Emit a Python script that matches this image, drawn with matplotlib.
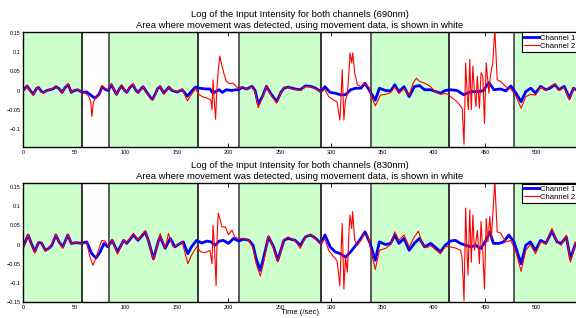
import numpy as np
import matplotlib
matplotlib.use("Agg")
import matplotlib.pyplot as plt

plt.rcParams['font.family'] = ['Liberation Sans', 'DejaVu Sans']

# windows (sec) where movement was detected -> drawn white, rest green
movement_windows = [(57.8, 84), (170, 210), (290, 338.5), (415, 478)]
t_max = 562  # axes run a bit past the right edge of the figure

# 690nm, (time, value)
ch1_690 = [(0,0),(2,0.006),(4,0.012),(7,0.0),(10,-0.01),(13,0.005),(15,0.008),(18,-0.003),(20,-0.005),(23,0.0),
    (26,0.002),(29,0.004),(32,0.01),(35,0.005),(38,-0.005),(41,0.008),(44,0.015),(47,-0.005),(50,0.0),(53,0.002),
    (57,-0.004),(62,-0.004),(66,-0.012),(70,-0.02),(74,-0.01),(77,0.01),(80,0.003),(83,0.0),(86,0.015),(89,0.0),
    (91,-0.01),(94,0.005),(96,0.012),(99,0.0),(101,-0.005),(104,0.008),(107,0.015),(110,0.0),(112,-0.005),(115,0.005),
    (117,0.01),(120,-0.003),(122,-0.01),(124,-0.018),(126,-0.023),(129,-0.008),(131,0.005),(133.5,0.01),(137,-0.007),
    (142,0.009),(145,0.0),(150,-0.004),(155,0.002),(158,-0.008),(160,-0.015),(164,-0.002),(168,0.009),(172,0.006),
    (178,0.004),(182,0.004),(185,-0.007),(188,-0.002),(191,0.002),(194,-0.005),(198,0.002),(203,0.0),(207,0.002),
    (210,0.002),(213,0.008),(218,0.004),(223,0.011),(226,0.0),(229,-0.035),(233,-0.016),(237,0.011),(241,-0.007),
    (247,-0.029),(251,-0.005),(254,0.006),(258,0.009),(262,0.006),(265,0.004),(270,0.002),(275,0.012),(280,0.011),
    (285,0.006),(290,-0.003),(294,0.01),(299,-0.005),(304,-0.007),(309,-0.011),(314,-0.011),(319,0.002),(324,0.006),
    (329,0.006),(333,0.019),(338,-0.003),(343,-0.025),(347,0.006),(353,0.0),(358,-0.001),(362,0.015),(366,-0.003),
    (371,0.01),(376,-0.016),(381,0.01),(386,0.013),(391,0.002),(397,0.002),(401,-0.002),(406.5,-0.007),(411,0.0),
    (416,0.002),(422.7,0.0),(429,-0.011),(436,-0.003),(442,-0.003),(448,-0.001),(453.6,0.021),(458.5,0.002),
    (465,0.004),(470,-0.001),(475,0.012),(480,-0.007),(485,-0.029),(489.5,-0.003),(494.4,0.006),(499,-0.007),
    (504,0.011),(509,0.002),(513,0.006),(518,0.015),(522,0.002),(527,0.011),(532,-0.02),(536,0.006),(540,0.0)]

ch2_690 = [(0,-0.003),(2,0.004),(4,0.013),(7,-0.002),(10,-0.012),(13,0.006),(15,0.007),(18,-0.005),(20,-0.006),
    (23,0.0),(26,0.003),(29,0.005),(32,0.011),(35,0.004),(38,-0.007),(41,0.01),(44,0.018),(47,-0.006),(50,0.001),
    (53,0.003),(57,-0.005),(61,-0.008),(64,-0.015),(66,-0.03),(67,-0.068),(68.5,-0.03),(70,-0.022),(74,-0.012),
    (77,0.013),(80,0.005),(83,0.002),(86,0.018),(89,0.0),(91,-0.012),(94,0.006),(96,0.015),(99,0.0),(101,-0.006),
    (104,0.01),(107,0.018),(110,0.0),(112,-0.006),(115,0.006),(117,0.01),(120,-0.005),(122,-0.012),(124,-0.02),
    (126,-0.025),(129,-0.01),(131,0.006),(133.5,0.012),(137,-0.01),(142,0.01),(145,0.002),(150,-0.003),(155,0.004),
    (158,-0.015),(160,-0.027),(164,-0.01),(168,0.005),(171,-0.01),(174.7,-0.016),(179.6,-0.02),(182.8,-0.025),
    (184,-0.05),(185,0.028),(186,-0.02),(187.5,-0.075),(188.5,-0.01),(190,0.05),(191.6,0.09),(193,0.072),
    (195.4,0.046),(198,0.024),(201,0.018),(204.5,0.019),(207.8,0.01),(211,0.005),(213,0.01),(218,0.003),(223,0.01),
    (226,-0.003),(229,-0.045),(233,-0.02),(237,0.012),(241,-0.01),(247,-0.033),(251,-0.006),(254,0.008),(258,0.01),
    (262,0.004),(265,0.003),(270,0.0),(275,0.011),(280,0.01),(285,0.004),(290,-0.004),(294,0.003),(297.6,-0.016),
    (302.5,-0.025),(305.8,-0.03),(308.5,-0.077),(309.8,-0.01),(310.8,0.054),(312.4,-0.077),(314,-0.025),
    (315.8,-0.01),(317.4,0.05),(318.4,0.098),(320,0.072),(321,0.098),(323,0.045),(325.6,0.015),(329,0.01),
    (332,0.02),(337,0.008),(340,-0.02),(343,-0.04),(348,-0.012),(353,-0.01),(358,-0.005),(362,0.01),(366,-0.008),
    (371,0.005),(376,-0.012),(380,0.02),(383,0.032),(386,0.024),(390,0.02),(394,0.015),(397,0.01),(401,-0.003),
    (406.5,-0.01),(411,-0.008),(414,-0.01),(418,-0.02),(422.7,-0.029),(427.6,-0.046),(429.4,-0.14),(431,0.072),
    (432.6,-0.015),(433.6,-0.05),(435,0.081),(436.5,-0.05),(438,0.063),(439.5,0.0),(441,-0.042),(442.4,0.037),
    (444.4,-0.046),(446,0.046),(447.7,0.037),(449.3,-0.086),(451,0.072),(453.6,-0.007),(455,0.037),(457.4,0.072),
    (459.4,0.16),(461.7,0.028),(465,0.024),(470,0.01),(475,0.004),(480,-0.015),(485,-0.046),(489.5,-0.016),
    (494.4,-0.01),(499,-0.012),(504,0.009),(509,0.0),(513,0.01),(518,0.018),(522,0.0),(527,0.008),(532,-0.025),
    (536,0.006),(540,0.0)]

# 830nm
ch1_830 = [(0,-0.006),(5,0.025),(8,0.003),(11.5,-0.018),(15,0.005),(18,0.004),(21.8,-0.015),(25,-0.01),(28,-0.002),
    (32,0.025),(35,0.007),(38.7,-0.006),(43.6,0.025),(47,0.003),(52,0.005),(57,0.003),(62,0.007),(67,-0.024),
    (71,-0.035),(75,-0.02),(78.8,0.003),(82.6,-0.006),(86.8,0.011),(92,-0.019),(98,0.011),(101,0.003),(107.5,0.025),
    (112,0.011),(119,0.033),(122,0.011),(127,-0.037),(132,0.011),(133.5,0.02),(138.4,-0.01),(143.3,0.016),
    (148,-0.006),(153,0.003),(156,0.007),(160.5,-0.024),(164,-0.006),(169,0.011),(174,0.004),(179,0.009),
    (183,0.007),(187,-0.002),(191,0.009),(195,0.011),(200,0.003),(205,0.016),(210,0.009),(215,0.014),(220,0.011),
    (224,-0.002),(227,-0.037),(231,-0.067),(234,-0.037),(239,0.02),(244,-0.006),(248,-0.041),(254,0.011),
    (258,0.016),(265,0.011),(270,-0.002),(275,0.02),(280,0.025),(285,0.016),(290,0.003),(294,0.025),(299,-0.006),
    (304,-0.019),(309,-0.024),(314,-0.033),(319,-0.019),(324,-0.002),(329,0.016),(333,0.033),(338,0.003),
    (343,-0.041),(347,0.007),(353,0.0),(358,0.003),(362,0.025),(366,0.003),(371,0.016),(376,-0.015),(381,0.003),
    (386,0.016),(391,-0.006),(397,0.003),(401,-0.006),(406.5,-0.019),(411,-0.002),(416,0.009),(421,0.011),
    (426,0.003),(431,-0.002),(436,-0.006),(441,-0.002),(445.4,-0.011),(450,0.007),(454.5,0.033),(458,0.003),
    (463.4,0.003),(468,0.007),(473,0.025),(478,0.007),(485,-0.05),(489.5,-0.002),(494,0.007),(499,-0.015),
    (504,0.011),(509,0.003),(515,0.035),(520,0.007),(524,0.003),(529,0.02),(533,-0.037),(538,0.003),(540,0.0)]

ch2_830 = [(0,-0.01),(5,0.027),(8,0.0),(11.5,-0.022),(15,0.007),(18,0.006),(21.8,-0.017),(25,-0.01),(28,0.0),
    (32,0.027),(35,0.005),(38.7,-0.01),(43.6,0.027),(47,0.002),(52,0.006),(57,0.002),(62,0.003),(65,-0.03),
    (68,-0.054),(71,-0.035),(74,-0.01),(76.6,0.011),(80,0.009),(83,-0.006),(86.8,0.014),(92,-0.025),(98,0.013),
    (101,0.004),(107.5,0.029),(112,0.012),(119,0.036),(122,0.01),(127,-0.04),(132,0.012),(133.5,0.029),
    (138.4,-0.01),(141.6,0.029),(146,-0.006),(150,-0.002),(155,0.007),(160.5,-0.05),(164,-0.028),(169,-0.006),
    (173,-0.019),(177.4,-0.021),(182,-0.015),(184,-0.05),(185,0.05),(186.5,-0.01),(188,-0.107),(189,0.016),
    (190,0.082),(192,0.065),(193.6,0.046),(197,0.046),(200,0.025),(203.4,0.038),(206,0.02),(210,0.016),(215,0.016),
    (220,0.01),(224,-0.01),(227,-0.05),(231,-0.082),(234,-0.05),(239,0.023),(244,-0.01),(248,-0.045),(254,0.013),
    (258,0.02),(265,0.01),(270,-0.01),(275,0.02),(280,0.027),(285,0.014),(290,0.003),(294,0.015),(297.6,-0.015),
    (302.5,-0.032),(305.8,-0.042),(308.5,-0.107),(309.8,-0.01),(310.8,0.055),(312.4,-0.116),(314,-0.033),
    (315.8,-0.072),(317.4,0.033),(318.4,0.077),(320,0.042),(321,0.086),(323,0.011),(325.6,-0.002),(329,0.011),
    (332,0.027),(336,0.02),(340,-0.03),(343,-0.065),(347,-0.015),(353,-0.01),(358,0.0),(362,0.033),(366,0.011),
    (371,0.025),(376,-0.006),(381,0.02),(385,0.035),(389,0.0),(393,-0.008),(397,-0.003),(401,-0.012),
    (406.5,-0.024),(411,-0.005),(416,-0.006),(421,-0.009),(426,-0.015),(427.6,-0.037),(429.4,-0.146),(431,0.095),
    (432.2,-0.01),(433.3,-0.08),(435,0.09),(436.5,-0.046),(438,0.077),(439.5,-0.015),(441,0.007),(442.4,0.037),
    (444.4,-0.05),(446,0.06),(447.7,-0.02),(449.3,-0.116),(451,0.068),(452.7,0.007),(454.5,0.073),(456,0.016),
    (457.4,0.078),(459.4,0.165),(461.7,0.033),(465,0.03),(470,0.007),(475,0.011),(480,-0.02),(485,-0.07),
    (489.5,-0.015),(494,0.0),(499,-0.024),(504,0.007),(509,0.003),(515,0.042),(520,0.007),(524,-0.002),
    (529,0.025),(533,-0.046),(538,0.007),(540,0.0)]

panels = [
    ("690nm", ch1_690, ch2_690, (-0.147, 0.153), [-0.1, -0.05, 0, 0.05, 0.1, 0.15]),
    ("830nm", ch1_830, ch2_830, (-0.15, 0.16), [-0.15, -0.1, -0.05, 0, 0.05, 0.1, 0.15]),
]
ylabels = {-0.15: '\u22120.15', -0.1: '\u22120.1', -0.05: '\u22120.05', 0: '0',
           0.05: '0.05', 0.1: '0.1', 0.15: '0.15'}

fig = plt.figure(figsize=(5.76, 3.18), dpi=100)
# right edge of axes lies outside the figure, like the original export
positions = [[0.040, 0.538, 1.002, 0.362], [0.040, 0.050, 1.002, 0.374]]
green = '#ccffcc'
x_mid = 0.48  # visible centre of the cropped axes

for pos, (wl, ch1, ch2, ylim, yticks) in zip(positions, panels):
    ax = fig.add_axes(pos)
    ax.set_axisbelow(True)

    # green background except where movement was detected
    edges = [0]
    for a, b in movement_windows:
        edges += [a, b]
    edges.append(t_max)
    for i in range(0, len(edges), 2):
        ax.axvspan(edges[i], edges[i + 1], color=green, lw=0, zorder=1)
    for a, b in movement_windows:
        ax.axvline(a, color='k', lw=1.1, zorder=1.5)
        ax.axvline(b, color='#333333', lw=1.1, zorder=1.5)

    c1 = np.array(ch1)
    c2 = np.array(ch2)
    ax.plot(c1[:, 0], c1[:, 1], color='b', lw=2.0, label='Channel 1', zorder=3)
    ax.plot(c2[:, 0], c2[:, 1], color='r', lw=0.8, label='Channel 2', zorder=4)

    ax.set_xlim(0, t_max)
    ax.set_ylim(*ylim)
    ax.set_yticks(yticks)
    ax.set_yticklabels([ylabels[v] for v in yticks])
    ax.set_xticks(range(0, 501, 50))
    ax.tick_params(direction='in', length=3, width=0.6, labelsize=4, pad=2,
                   top=True, right=True)
    for s in ax.spines.values():
        s.set_linewidth(1.0)
        s.set_zorder(5)

    ax.set_title("Log of the Input Intensity for both channels (%s)\n"
                 "Area where movement was detected, using movement data, is shown in white" % wl,
                 fontsize=6.8, pad=3, linespacing=1.3, x=x_mid)
    leg = ax.legend(loc='upper left', bbox_to_anchor=(0.865, 0.995), borderaxespad=0,
                    fontsize=5.6, handlelength=1.9, borderpad=0.25, labelspacing=0.05,
                    handletextpad=0.15, fancybox=False, framealpha=1, edgecolor='k')
    leg.get_frame().set_linewidth(0.8)
    leg.set_zorder(6)

ax.set_xlabel("Time (/sec)", fontsize=5.5)
ax.xaxis.set_label_coords(x_mid, -0.06)

fig.savefig("out.png", dpi=100)
